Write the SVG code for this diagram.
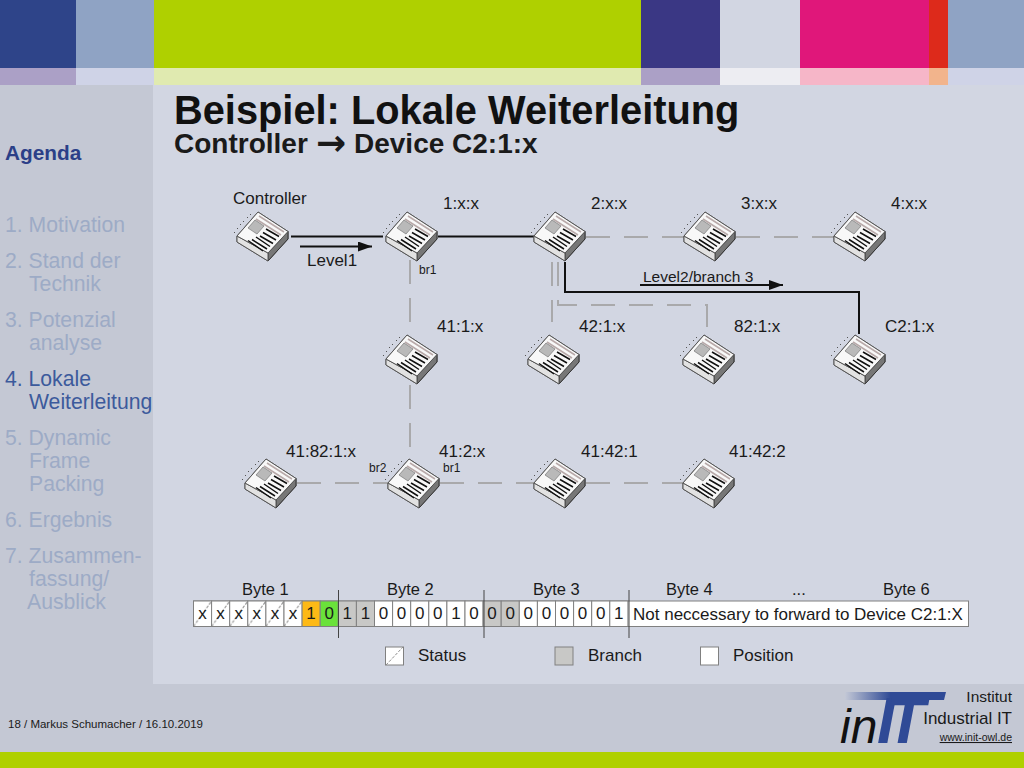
<svg xmlns="http://www.w3.org/2000/svg" xmlns:xlink="http://www.w3.org/1999/xlink" width="1024" height="768" viewBox="0 0 1024 768">
<style>
text{font-family:"Liberation Sans",Arial,sans-serif;fill:#1a1a1a}
.lab{font-size:17px}
.byte{font-size:16.500px}
.sm{font-size:12px}
.nav{font-size:21.200px;fill:#9dabc6}
.cell{stroke:#808080;stroke-width:1}
.bit{font-size:17px;text-anchor:middle}
.g{fill:none;stroke:#a9a9ab;stroke-width:2;stroke-dasharray:24 14}
.b{fill:none;stroke:#111;stroke-width:2}
.div{stroke:#444;stroke-width:1}
</style>
<defs>
<pattern id="hatch" width="18.100" height="25.500" patternUnits="userSpaceOnUse" x="193.500" y="601">
<rect width="18.100" height="25.500" fill="#fff"/><path d="M0 25.500L18.100 0" stroke="#8f8f8f" stroke-width="1.100" stroke-dasharray="3 1.500"/>
</pattern>
<linearGradient id="bar" x1="0" x2="1" y1="0" y2="0"><stop offset="0" stop-color="#c3c8d6"/><stop offset="0.45" stop-color="#2f4a96"/><stop offset="1" stop-color="#2f4a96"/></linearGradient>
<marker id="ah" markerUnits="userSpaceOnUse" markerWidth="15" markerHeight="10" refX="14" refY="5" orient="auto"><path d="M0 0L14 5L0 10z" fill="#111"/></marker>
<g id="dev">
<path d="M-26-1L-5-25L25-5.500L25 2L5 24L-26 5z" fill="#e6e6e6" stroke="#555" stroke-width="1"/>
<path d="M5 16L25-5.500L25 2L5 24z" fill="#777" stroke="#333" stroke-width="1"/>
<path d="M-26-1L5 16L5 24L-26 5z" fill="#e2e2e2" stroke="#555" stroke-width="1"/>
<path d="M-26-1L-5-25L25-5.500L5 16z" fill="#f8f8f8" stroke="#555" stroke-width="1"/>
<path d="M-4-21L21-5M-7-18L18-2" stroke="#b8a9a9" stroke-width="1.500" fill="none"/>
<path d="M-15-9L-8-17L1-11L-6-3z" fill="#b9b9b9" stroke="#777" stroke-width=".7"/>
<path d="M3-8L16-.5M0-4.500L13 3M-3-1L10 6.500M-7 0L7 9.500M-11 2.500L4 12M-15 3.500L0 14" stroke="#111" stroke-width="1.500" fill="none"/>
<path d="M-29-5l1 1M-26-9l1 1M-23-13l1 1M-20-16l1 1M-16-20l1 1M-13-23l1 1" stroke="#555" stroke-width="1"/>
</g>
</defs>

<g id="background">
<rect width="1024" height="768" fill="#d2d6e2"/>
<rect y="85" width="153" height="599" fill="#c4c8d4"/>
<rect y="684" width="1024" height="68" fill="#c4c8d4"/>
<rect y="752" width="1024" height="16" fill="#afd000"/>
<rect width="76" height="68" fill="#2e4489"/><rect x="76" width="78" height="68" fill="#8fa3c4"/><rect x="154" width="487" height="68" fill="#afd000"/><rect x="641" width="79" height="68" fill="#3a3784"/><rect x="720" width="80" height="68" fill="#d2d6e2"/><rect x="800" width="129" height="68" fill="#e0177a"/><rect x="929" width="19" height="68" fill="#dd2a1b"/><rect x="948" width="76" height="68" fill="#8fa3c4"/>
<rect y="68" width="76" height="17" fill="#aba0c6"/><rect x="76" y="68" width="78" height="17" fill="#cfd3e7"/><rect x="154" y="68" width="487" height="17" fill="#e0eab0"/><rect x="641" y="68" width="79" height="17" fill="#aba0c6"/><rect x="720" y="68" width="80" height="17" fill="#ededf2"/><rect x="800" y="68" width="129" height="17" fill="#f6b6c8"/><rect x="929" y="68" width="19" height="17" fill="#f2b48c"/><rect x="948" y="68" width="76" height="17" fill="#cfd3e7"/>
</g>

<g id="title">
<text x="174" y="123.500" font-size="39.800" font-weight="bold" style="fill:#111">Beispiel: Lokale Weiterleitung</text>
<text x="174" y="153" font-size="28" font-weight="bold">Controller<tspan x="316" y="155" font-size="36" style="font-family:'DejaVu Sans',sans-serif">→</tspan><tspan x="354" y="153">Device C2:1:x</tspan></text>
</g>

<g id="sidebar">
<text x="5" y="160" font-size="20.800" font-weight="bold" style="fill:#2b3f88">Agenda</text>
<text class="nav" x="5" y="232">1. Motivation</text>
<text class="nav" x="5" y="268">2. Stand der</text>
<text class="nav" x="29" y="291">Technik</text>
<text class="nav" x="5" y="327">3. Potenzial</text>
<text class="nav" x="29" y="350">analyse</text>
<text class="nav" x="5" y="386" style="fill:#3c5a9c">4. Lokale</text>
<text class="nav" x="29" y="409" style="fill:#3c5a9c">Weiterleitung</text>
<text class="nav" x="5" y="445">5. Dynamic</text>
<text class="nav" x="29" y="468">Frame</text>
<text class="nav" x="29" y="491">Packing</text>
<text class="nav" x="5" y="527">6. Ergebnis</text>
<text class="nav" x="5" y="563">7. Zusammen-</text>
<text class="nav" x="29" y="586">fassung/</text>
<text class="nav" x="27" y="609">Ausblick</text>
</g>

<g id="connectors">
<path class="g" d="M586 237H684"/>
<path class="g" d="M736 237H834"/>
<path class="g" d="M410 260V335"/>
<path class="g" d="M410 385V448"/>
<path class="g" d="M552 262V322"/>
<path class="g" d="M558 262V305H707V335"/>
<path class="g" d="M297 483H388"/>
<path class="g" d="M440 483H534"/>
<path class="g" d="M586 483H683"/>
<path class="b" d="M291 236.500H383"/>
<path class="b" d="M438 236.500H534"/>
<path class="b" d="M565 262V292H859V334"/>
<path class="b" d="M300 246.500H372" marker-end="url(#ah)"/>
<path class="b" d="M640 285H783" marker-end="url(#ah)"/>
</g>

<g id="node-controller"><use xlink:href="#dev" href="#dev" x="263" y="237"/><text class="lab" x="233" y="204">Controller</text></g>
<g id="node-1xx"><use xlink:href="#dev" href="#dev" x="412" y="237"/><text class="lab" x="443" y="209">1:x:x</text><text class="sm" x="419" y="274">br1</text></g>
<g id="node-2xx"><use xlink:href="#dev" href="#dev" x="560" y="237"/><text class="lab" x="591" y="209">2:x:x</text></g>
<g id="node-3xx"><use xlink:href="#dev" href="#dev" x="710" y="237"/><text class="lab" x="741" y="209">3:x:x</text></g>
<g id="node-4xx"><use xlink:href="#dev" href="#dev" x="860" y="237"/><text class="lab" x="891" y="209">4:x:x</text></g>
<g id="node-411x"><use xlink:href="#dev" href="#dev" x="412" y="360"/><text class="lab" x="437" y="332">41:1:x</text></g>
<g id="node-421x"><use xlink:href="#dev" href="#dev" x="554" y="360"/><text class="lab" x="579" y="332">42:1:x</text></g>
<g id="node-821x"><use xlink:href="#dev" href="#dev" x="709" y="360"/><text class="lab" x="734" y="332">82:1:x</text></g>
<g id="node-c21x"><use xlink:href="#dev" href="#dev" x="860" y="360"/><text class="lab" x="885" y="332">C2:1:x</text></g>
<g id="node-41821x"><use xlink:href="#dev" href="#dev" x="271" y="484"/><text class="lab" x="286" y="457">41:82:1:x</text></g>
<g id="node-412x"><use xlink:href="#dev" href="#dev" x="414" y="484"/><text class="lab" x="439" y="457">41:2:x</text><text class="sm" x="369" y="472">br2</text><text class="sm" x="443" y="472">br1</text></g>
<g id="node-41421"><use xlink:href="#dev" href="#dev" x="560" y="484"/><text class="lab" x="581" y="457">41:42:1</text></g>
<g id="node-41422"><use xlink:href="#dev" href="#dev" x="709" y="484"/><text class="lab" x="729" y="457">41:42:2</text></g>

<g id="edge-labels">
<text class="lab" x="307" y="266">Level1</text>
<text class="lab" x="643" y="282" style="font-size:15.500px">Level2/branch 3</text>
</g>

<g id="bitfield">
<rect x="193.500" y="601" width="775" height="25.500" fill="#fff" stroke="#808080"/>
<g id="cells">
<rect class="cell" x="193.500" y="601" width="18.100" height="25.500" fill="url(#hatch)"/>
<rect class="cell" x="211.600" y="601" width="18.100" height="25.500" fill="url(#hatch)"/>
<rect class="cell" x="229.700" y="601" width="18.100" height="25.500" fill="url(#hatch)"/>
<rect class="cell" x="247.800" y="601" width="18.100" height="25.500" fill="url(#hatch)"/>
<rect class="cell" x="265.900" y="601" width="18.100" height="25.500" fill="url(#hatch)"/>
<rect class="cell" x="284" y="601" width="18.100" height="25.500" fill="url(#hatch)"/>
<rect class="cell" x="302.100" y="601" width="18.100" height="25.500" fill="#fdb916"/>
<rect class="cell" x="320.200" y="601" width="18.100" height="25.500" fill="#6ae23a"/>
<rect class="cell" x="338.300" y="601" width="18.100" height="25.500" fill="#c8c8c6"/>
<rect class="cell" x="356.400" y="601" width="18.100" height="25.500" fill="#c8c8c6"/>
<rect class="cell" x="374.500" y="601" width="18.100" height="25.500" fill="#fff"/>
<rect class="cell" x="392.600" y="601" width="18.100" height="25.500" fill="#fff"/>
<rect class="cell" x="410.700" y="601" width="18.100" height="25.500" fill="#fff"/>
<rect class="cell" x="428.800" y="601" width="18.100" height="25.500" fill="#fff"/>
<rect class="cell" x="446.900" y="601" width="18.100" height="25.500" fill="#fff"/>
<rect class="cell" x="465" y="601" width="18.100" height="25.500" fill="#fff"/>
<rect class="cell" x="483.100" y="601" width="18.100" height="25.500" fill="#c8c8c6"/>
<rect class="cell" x="501.200" y="601" width="18.100" height="25.500" fill="#c8c8c6"/>
<rect class="cell" x="519.300" y="601" width="18.100" height="25.500" fill="#fff"/>
<rect class="cell" x="537.400" y="601" width="18.100" height="25.500" fill="#fff"/>
<rect class="cell" x="555.500" y="601" width="18.100" height="25.500" fill="#fff"/>
<rect class="cell" x="573.600" y="601" width="18.100" height="25.500" fill="#fff"/>
<rect class="cell" x="591.700" y="601" width="18.100" height="25.500" fill="#fff"/>
<rect class="cell" x="609.800" y="601" width="18.100" height="25.500" fill="#fff"/>
</g>
<g id="bits">
<text class="bit" x="202.500" y="619">x</text><text class="bit" x="220.600" y="619">x</text><text class="bit" x="238.700" y="619">x</text><text class="bit" x="256.800" y="619">x</text><text class="bit" x="275" y="619">x</text><text class="bit" x="293" y="619">x</text><text class="bit" x="311.100" y="619">1</text><text class="bit" x="329.200" y="619">0</text><text class="bit" x="347.300" y="619">1</text><text class="bit" x="365.400" y="619">1</text><text class="bit" x="383.500" y="619">0</text><text class="bit" x="401.600" y="619">0</text><text class="bit" x="419.700" y="619">0</text><text class="bit" x="437.800" y="619">0</text><text class="bit" x="456" y="619">1</text><text class="bit" x="474" y="619">0</text><text class="bit" x="492.100" y="619">0</text><text class="bit" x="510.200" y="619">0</text><text class="bit" x="528.300" y="619">0</text><text class="bit" x="546.400" y="619">0</text><text class="bit" x="564.500" y="619">0</text><text class="bit" x="582.600" y="619">0</text><text class="bit" x="600.700" y="619">0</text><text class="bit" x="618.800" y="619">1</text>
</g>
<text class="lab" x="633" y="619.500">Not neccessary to forward to Device C2:1:X</text>
<path class="div" d="M338.500 590V638M484 590V638M629 590V638"/>
<text class="byte" x="242" y="595">Byte 1</text>
<text class="byte" x="387" y="595">Byte 2</text>
<text class="byte" x="533" y="595">Byte 3</text>
<text class="byte" x="666" y="595">Byte 4</text>
<text class="byte" x="792" y="595">...</text>
<text class="byte" x="883" y="595">Byte 6</text>
</g>

<g id="legend">
<rect class="cell" x="385.500" y="647" width="18" height="18" fill="#fff"/><path d="M386 665L403 647" stroke="#8f8f8f" stroke-dasharray="3 1.500"/>
<text class="lab" x="418" y="661">Status</text>
<rect class="cell" x="555" y="647" width="18" height="18" fill="#c8c8c6"/>
<text class="lab" x="588" y="661">Branch</text>
<rect class="cell" x="700.500" y="647" width="18" height="18" fill="#fff"/>
<text class="lab" x="733" y="661">Position</text>
</g>

<g id="footer">
<text x="8" y="728" font-size="11.500">18 / Markus Schumacher / 16.10.2019</text>
<path d="M845 692H946L944 700H845z" fill="url(#bar)"/>
<text x="840" y="743" font-size="48" font-style="italic" style="fill:#111">in</text>
<text x="877" y="743" font-size="64" font-weight="bold" font-style="italic" style="fill:#2f4a96">I<tspan x="886">T</tspan></text>
<text x="1012" y="702" font-size="15.500" text-anchor="end">Institut</text>
<text x="1012" y="724" font-size="17" text-anchor="end">Industrial IT</text>
<text x="1012" y="741" font-size="10.500" text-anchor="end" text-decoration="underline">www.init-owl.de</text>
</g>
</svg>
